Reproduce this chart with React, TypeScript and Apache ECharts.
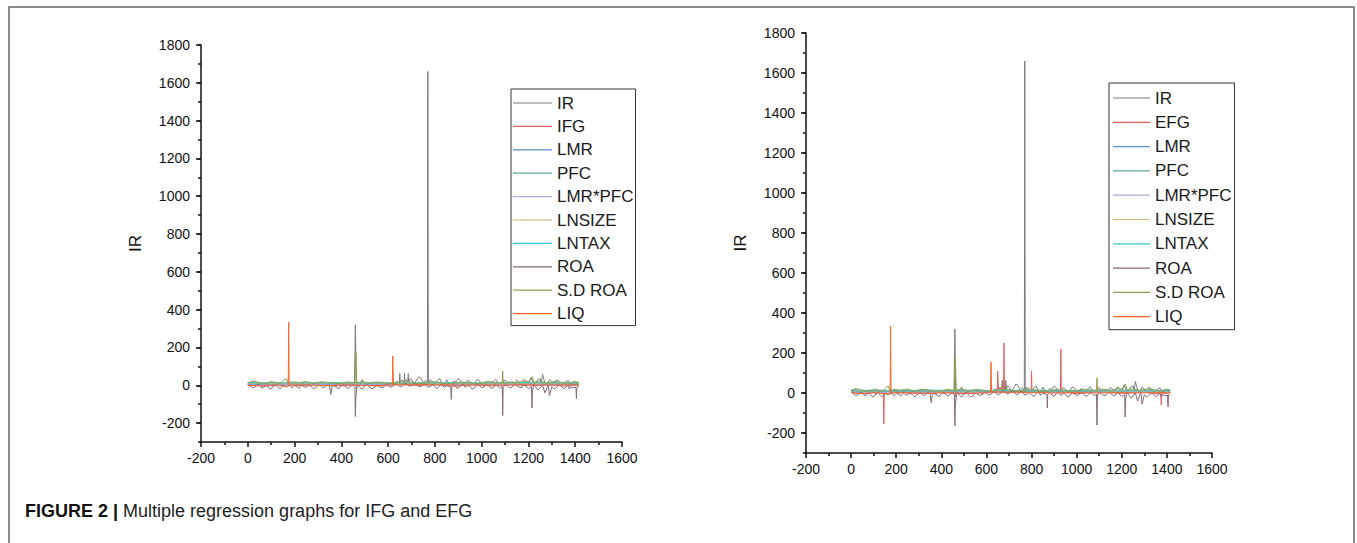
import React, { useEffect, useRef } from "react";
import * as echarts from "echarts";

// ---- tick values ----
const X_MIN = -200;
const X_MAX = 1600;
const Y_MIN = -300;
const Y_MAX = 1800;
const Y_MAJOR_TICKS = [-200, 0, 200, 400, 600, 800, 1000, 1200, 1400, 1600, 1800];

// ---- legend / series names ----
const LEFT_NAMES = ["IR", "IFG", "LMR", "PFC", "LMR*PFC", "LNSIZE", "LNTAX", "ROA", "S.D ROA", "LIQ"];
const RIGHT_NAMES = ["IR", "EFG", "LMR", "PFC", "LMR*PFC", "LNSIZE", "LNTAX", "ROA", "S.D ROA", "LIQ"];

// ---- series values, [observation, value] ----
const IR_DATA = [
  [0, 6], [10, 14], [20, 22], [30, 2], [40, 4], [50, 12], [60, 10], [70, -4], [80, -2], [90, 12], [100, 8], [110, -6], [120, 3], [130, 15], [140, 12], [150, 0], [160, 5], [170, 14], [180, -4],
  [190, 9], [200, 7], [210, -5], [220, 2], [230, 13], [240, 11], [250, 0], [260, -3], [270, 12], [280, 9], [290, -2], [300, 4], [310, 16], [320, 14], [330, -3], [340, 2], [350, 12], [360, 8], [370, -6], [380, -5],
  [390, 11], [400, 10], [410, -4], [420, 3], [430, 14], [440, 9], [450, -2], [456, 2], [460, 320], [464, -20], [470, 6], [480, 12], [490, 30], [500, -3], [510, 5], [520, 14], [530, 9],
  [540, -4], [550, -2], [560, 13], [570, 8], [580, -3], [590, 3], [600, 12], [610, 10], [620, 2], [630, 14], [640, 22], [648, 12], [650, 62], [652, 18], [660, 28], [668, 15], [670, 64],
  [672, 16], [678, 30], [684, 14], [686, 62], [688, 18], [694, 35], [700, 30], [710, 12], [720, 22], [730, 45], [740, 38], [750, 15], [760, 26], [768, 12], [770, 1660],
  [772, 10], [780, 30], [790, 18], [800, 6], [810, 24], [820, 35], [830, 12], [840, -2], [850, 30], [860, 8], [870, 6], [880, 22], [890, 18], [900, 35], [910, 25], [920, 4], [930, 8], [940, 26], [950, 20],
  [960, 2], [970, 12], [980, 30], [990, 25], [1000, 8], [1010, 5], [1020, 22], [1030, 15], [1040, 2], [1050, 22], [1060, 32], [1070, 10], [1080, 0], [1090, 18], [1100, 28], [1110, 12], [1120, 4], [1130, 20], [1140, 10], [1150, 28],
  [1160, 18], [1170, 8], [1180, 30], [1190, 22], [1200, 5], [1210, 40], [1220, 14], [1230, 12], [1240, 30], [1250, 35], [1255, 10], [1260, 58], [1270, 15], [1280, 6], [1290, 30], [1300, 20], [1310, 10], [1320, 28], [1330, 22],
  [1340, 4], [1350, 8], [1360, 20], [1370, 25], [1380, 2], [1390, 10], [1400, 18], [1415, 14],
];

const IFG_DATA = [
  [0, 1], [80, -4], [160, 3], [240, -2], [320, 4], [400, -3], [480, 2], [560, -4], [640, 5], [720, -2],
  [800, 3], [880, -5], [960, 2], [1040, -3], [1120, 4], [1200, -2], [1280, 3], [1360, -4], [1415, 1],
];

const EFG_DATA = [
  [0, 3], [60, -4], [120, 5], [143, -2], [145, -155], [147, 0], [200, 4], [300, -3], [400, 2], [500, -4],
  [600, 3], [640, 10], [648, 15], [650, 110], [652, 20], [665, 25], [676, 20], [678, 250], [680, 15], [720, 8],
  [798, 6], [800, 110], [802, 5], [860, 3], [928, 5], [930, 220], [932, 4], [1000, -3], [1100, 5], [1200, -2],
  [1300, 3], [1373, -5], [1375, -60], [1377, -4], [1415, 2],
];

const LMR_DATA = [[0, 4], [200, 5], [400, 4], [600, 6], [800, 5], [1000, 4], [1200, 5], [1415, 4]];
const PFC_DATA = [[0, 9], [250, 8], [500, 10], [750, 9], [1000, 8], [1250, 10], [1415, 9]];
const LMRPFC_DATA = [[0, 2], [350, 3], [700, 2], [1050, 3], [1415, 2]];
const LNSIZE_DATA = [[0, 11], [300, 12], [600, 11], [900, 12], [1200, 11], [1415, 12]];
const LNTAX_DATA = [[0, 14], [200, 13], [400, 14], [600, 13], [800, 14], [1000, 13], [1200, 14], [1415, 13]];

const ROA_DATA = [
  [5, 2], [10, -4], [20, -12], [30, -10], [40, 4], [50, 2], [60, -14], [70, -8], [80, 0], [90, -15], [100, -20], [110, -3], [120, 2], [130, -12], [140, -18], [150, 0], [160, -6], [170, -8], [180, 2], [190, -14],
  [200, -2], [210, -5], [220, -16], [230, 2], [240, -8], [250, -10], [260, 0], [270, -6], [280, -18], [290, -12], [300, -2], [310, 0], [320, -14], [330, -8], [340, 2], [350, -4], [355, -48], [360, -6], [370, 0],
  [380, -10], [390, -18], [400, -2], [410, 2], [420, -9], [430, -16], [440, -4], [450, 0], [458, -10], [460, -165], [462, -70], [466, -10], [472, 2], [480, -12], [490, -20], [500, -3], [510, 4],
  [520, -9], [530, -18], [540, -15], [550, 0], [560, -4], [570, -12], [580, -10], [590, 2], [600, -2], [610, -10], [620, -6], [630, 4], [640, 2], [650, -8], [660, -5], [670, 10], [680, 8], [690, -4], [700, -3],
  [710, 12], [720, 5], [730, -6], [740, -8], [750, 6], [760, 4], [770, -10], [780, -6], [790, 4], [800, -10], [810, -18], [820, -2], [830, 6], [840, -12], [850, -2], [860, -4], [868, -8], [870, -75],
  [872, -6], [880, 4], [890, -10], [900, -16], [910, -3], [920, 6], [930, -12], [940, -2], [950, -5], [960, -20], [970, -14], [980, 2], [990, -2], [1000, -12], [1010, -9], [1020, 4], [1030, -4], [1040, -16], [1050, -12],
  [1060, 2], [1070, -6], [1080, -14], [1088, -5], [1090, -160], [1092, -10], [1100, 2], [1110, -4], [1120, -14], [1130, -10], [1140, 4], [1150, -2], [1160, -10], [1170, -14], [1180, 2], [1190, -6], [1200, -18], [1213, -8],
  [1215, -120], [1217, -30], [1223, 4], [1230, -8], [1240, -25], [1250, -15], [1260, 2], [1270, -40], [1280, -10], [1285, 0], [1290, -55], [1300, -8], [1310, -20], [1320, -12], [1330, 2], [1340, -4], [1350, -18],
  [1360, -10], [1370, 2], [1375, -20], [1380, -8], [1390, -14], [1403, -10], [1405, -70], [1407, -10], [1415, -5],
];

const SDROA_DATA = [
  [0, 12], [20, 22], [40, 18], [60, 8], [80, 10], [100, 20], [120, 15], [140, 10], [155, 28], [165, 35], [172, 12], [190, 18], [220, 14], [250, 20], [280, 9], [310, 18], [340, 16], [370, 8],
  [400, 11], [430, 18], [458, 12], [462, 175], [466, 14], [490, 20], [520, 10], [550, 18], [580, 15], [610, 8], [640, 11], [670, 20], [700, 16], [730, 10], [760, 12], [790, 20], [820, 15], [850, 8],
  [880, 10], [910, 18], [940, 14], [970, 8], [1000, 12], [1030, 20], [1060, 15], [1088, 12], [1090, 75], [1092, 14], [1120, 18], [1150, 12], [1180, 22], [1205, 20], [1215, 45], [1225, 15], [1250, 22],
  [1280, 12], [1310, 20], [1340, 16], [1370, 10], [1400, 20], [1415, 10],
];

const LIQ_DATA = [
  [0, 2], [30, -2], [60, -3], [90, 1], [120, 1], [150, -4], [165, -5], [173, -2], [175, 335], [177, 0],
  [210, 2], [250, 2], [300, -1], [350, -2], [400, 2], [450, 1], [500, -2], [550, -1], [590, 1], [618, 2],
  [620, 155], [623, 4], [660, 5], [700, 3], [750, 4], [800, 2], [850, 3], [900, -1], [950, 2], [1000, 2],
  [1050, 1], [1100, 0], [1150, 2], [1200, 3], [1250, 1], [1300, 1], [1350, 2], [1415, 2],
];

// ---- styles ----
const FONT = "'Liberation Sans', Arial, Helvetica, sans-serif";
const COLORS: Record<string, string> = {
  IR: "#7c7c7c",
  IFG: "#e4615c",
  EFG: "#e4615c",
  LMR: "#5a8fd2",
  PFC: "#67a3a0",
  "LMR*PFC": "#b8a6d8",
  LNSIZE: "#cdb56b",
  LNTAX: "#36c6d0",
  ROA: "#87697a",
  "S.D ROA": "#8c9f4c",
  LIQ: "#f1692b",
};

const DATA_BY_NAME: Record<string, number[][]> = {
  IR: IR_DATA,
  IFG: IFG_DATA,
  EFG: EFG_DATA,
  LMR: LMR_DATA,
  PFC: PFC_DATA,
  "LMR*PFC": LMRPFC_DATA,
  LNSIZE: LNSIZE_DATA,
  LNTAX: LNTAX_DATA,
  ROA: ROA_DATA,
  "S.D ROA": SDROA_DATA,
  LIQ: LIQ_DATA,
};

function makeXAxis(gridIndex: number, margin: number) {
  return {
    type: "value",
    gridIndex,
    min: X_MIN,
    max: X_MAX,
    interval: 200,
    axisLine: { show: true, onZero: false, lineStyle: { color: "#111", width: 1.5 } },
    axisTick: { show: true, length: 5, lineStyle: { color: "#111", width: 1.5 } },
    minorTick: { show: true, splitNumber: 2, length: 3, lineStyle: { color: "#111", width: 1.5 } },
    axisLabel: { fontSize: 14, color: "#111", fontFamily: FONT, margin, formatter: (v: number) => String(v) },
    splitLine: { show: false },
  };
}

function makeYAxis(gridIndex: number) {
  return {
    type: "value",
    gridIndex,
    min: Y_MIN,
    max: Y_MAX,
    interval: 100,
    name: "IR",
    nameLocation: "middle",
    nameGap: 57,
    nameRotate: 90,
    nameTextStyle: { fontSize: 17, color: "#111", fontFamily: FONT },
    axisLine: { show: true, onZero: false, lineStyle: { color: "#111", width: 1.5 } },
    axisTick: { show: true, length: 3, lineStyle: { color: "#111", width: 1.5 } },
    axisLabel: {
      fontSize: 14,
      color: "#111",
      fontFamily: FONT,
      margin: 11,
      formatter: (v: number) => (v % 200 === 0 ? String(v) : ""),
    },
    splitLine: { show: false },
  };
}

function makeYMajorTickAxis(gridIndex: number) {
  return {
    type: "value",
    gridIndex,
    position: "left",
    offset: 0,
    min: Y_MIN,
    max: Y_MAX,
    interval: 100,
    axisLine: { show: false, onZero: false },
    axisTick: { show: true, length: 5, customValues: Y_MAJOR_TICKS, lineStyle: { color: "#111", width: 1.5 } },
    axisLabel: { show: false },
    splitLine: { show: false },
  };
}

function makeLegend(names: string[], left: number, top: number, itemWidth: number, itemGap: number, padding: number[]) {
  return {
    data: names,
    orient: "vertical",
    left,
    top,
    icon: "rect",
    itemWidth,
    itemHeight: 1.2,
    itemGap,
    padding,
    borderColor: "#333",
    borderWidth: 1,
    selectedMode: false,
    textStyle: { fontSize: 17, lineHeight: 18, color: "#1a1a1a", fontFamily: FONT },
  };
}

function makeSeries(names: string[], idx: number) {
  return names.map((name) => ({
    name,
    type: "line",
    xAxisIndex: idx,
    yAxisIndex: idx,
    data: DATA_BY_NAME[name],
    symbol: "none",
    showSymbol: false,
    lineStyle: { width: 1, color: COLORS[name] },
    itemStyle: { color: COLORS[name] },
    emphasis: { disabled: true },
    silent: true,
  }));
}

export default function App() {
  const ref = useRef<HTMLDivElement>(null);

  useEffect(() => {
    document.body.style.margin = "0";
    if (!ref.current) return;
    const chart = echarts.init(ref.current, undefined, { renderer: "svg" });
    const option = {
      animation: false,
      backgroundColor: "#ffffff",
      textStyle: { fontFamily: FONT },
      grid: [
        { left: 201, top: 45, width: 421, height: 397 },
        { left: 806, top: 33, width: 406, height: 420 },
      ],
      xAxis: [makeXAxis(0, 9), makeXAxis(1, 9)],
      yAxis: [makeYAxis(0), makeYAxis(1), makeYMajorTickAxis(0), makeYMajorTickAxis(1)],
      legend: [
        makeLegend(LEFT_NAMES, 511, 89, 39, 5.4, [5, 2, 3, 2]),
        makeLegend(RIGHT_NAMES, 1109, 83, 37, 6.3, [6, 3, 4, 4]),
      ],
      series: [...makeSeries(LEFT_NAMES, 0), ...makeSeries(RIGHT_NAMES, 1)],
      graphic: [
        {
          type: "rect",
          shape: { x: 9, y: 7, width: 1345, height: 600 },
          style: { fill: "none", stroke: "#666", lineWidth: 1.5 },
          silent: true,
        },
        {
          type: "text",
          left: 25,
          top: 502,
          style: {
            text: "{b|FIGURE 2 |} {n|Multiple regression graphs for IFG and EFG}",
            rich: {
              b: { fontSize: 18, fontWeight: "bold", fill: "#111", fontFamily: FONT },
              n: { fontSize: 18, fill: "#222", fontFamily: FONT },
            },
            fontSize: 18,
            fontFamily: FONT,
          },
        },
      ],
    };
    chart.setOption(option as any);
    return () => chart.dispose();
  }, []);

  return <div ref={ref} style={{ width: 1357, height: 543 }} />;
}
